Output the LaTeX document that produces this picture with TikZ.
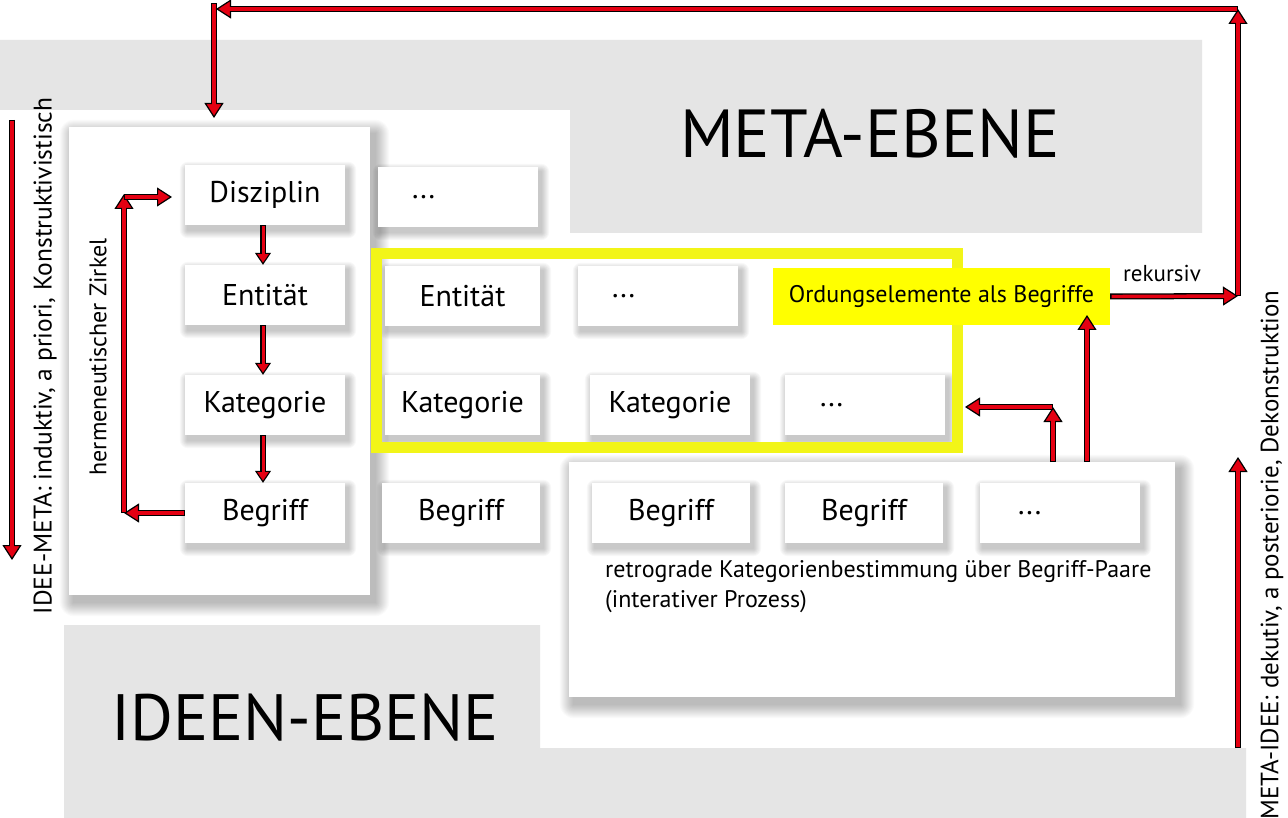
\documentclass[tikz,border=0pt]{standalone}
\usepackage{fontspec}
\setmainfont{PT Sans}
\usetikzlibrary{arrows.meta,calc}
\definecolor{bandgray}{RGB}{229,229,229}
\definecolor{frameyellow}{RGB}{242,245,24}
\definecolor{nodeyellow}{RGB}{255,255,0}
\definecolor{arrowred}{RGB}{228,0,18}
\pgfdeclarelayer{bandlayer}
\pgfdeclarelayer{panelshadowlayer}
\pgfdeclarelayer{panellayer}
\pgfdeclarelayer{shadowlayer}
\pgfsetlayers{bandlayer,panelshadowlayer,panellayer,shadowlayer,main}
\newcommand{\shadowfor}[5]{% name, dx, dy, steps, opacity
  \foreach \i in {1,...,#4}{
    \fill[black, opacity=#5, rounded corners=\i pt]
      ($(#1.north west)+(#2-\i,#3-\i)$) rectangle ($(#1.south east)+(#2+\i,#3+\i)$);
  }}
\begin{document}
\begin{tikzpicture}[x=1pt,y=-1pt,
  ra/.style={draw=black, line width=6pt,
    -{Triangle[width=19pt,length=15pt,fill=arrowred,line width=1.2pt]},
    postaction={draw=arrowred, line width=3.4pt, arrows=-, shorten >=11pt, shorten <=1.3pt}},
  sa/.style={draw=black, line width=5.4pt,
    -{Triangle[width=16pt,length=12pt,fill=arrowred,line width=1.1pt]},
    postaction={draw=arrowred, line width=3pt, arrows=-, shorten >=8pt, shorten <=1.2pt}},
  box/.style={fill=white, minimum width=160pt, minimum height=60pt, inner sep=0pt,
    font=\fontsize{30}{36}\selectfont},
  panel/.style={fill=white, inner sep=0pt},
  side/.style={rotate=90, inner sep=0pt, font=\fontsize{25.5}{28}\selectfont},
  small/.style={inner sep=0pt, font=\fontsize{24}{30}\selectfont},
]
\useasboundingbox (0,0) rectangle (1288,818);
\begin{pgfonlayer}{bandlayer}
\fill[white] (0,0) rectangle (1288,818);
\fill[bandgray] (0,40) -- (1202,40) -- (1202,233) -- (570,233) -- (570,110) -- (0,110) -- cycle;
\fill[bandgray] (64,625) -- (540,625) -- (540,748) -- (1246,748) -- (1246,818) -- (64,818) -- cycle;
\end{pgfonlayer}
\node[inner sep=0pt, font=\fontsize{68}{80}\selectfont, anchor=base] (meta) at (870,158) {META-EBENE};
\node[inner sep=0pt, font=\fontsize{65.5}{80}\selectfont, anchor=base] (ideen) at (305,740) {IDEEN-EBENE};

% panels
\begin{pgfonlayer}{panellayer}
\node[panel, minimum width=301pt, minimum height=468pt] (lp) at (219.5,361) {};
\node[panel, minimum width=606pt, minimum height=235pt] (rp) at (872,579.5) {};
\end{pgfonlayer}

% yellow frame
\draw[frameyellow, line width=11pt] (376.5,253.5) rectangle (957.5,447.5);

% left column
\node[box] (dis) at (265,195) {Disziplin};
\node[box] (ent) at (265,295) {Entität};
\node[box] (kat) at (265,405) {Kategorie};
\node[box] (beg) at (265,513) {Begriff};

% other boxes
\node[box] (d1) at (458,197) {\makebox[160pt][l]{\hspace{34pt}...}};
\node[box, minimum width=155pt] (ent2) at (462.5,296) {Entität};
\node[box] (d2) at (658,296) {\makebox[160pt][l]{\hspace{34pt}...}};
\node[fill=nodeyellow, minimum width=337pt, minimum height=57pt, inner sep=0pt,
      font=\fontsize{24}{28}\selectfont] (ord) at (941.5,296.5) {Ordungselemente als Begriffe};
\node[box, minimum width=155pt] (kat2) at (462.5,405) {Kategorie};
\node[box] (kat3) at (670,405) {Kategorie};
\node[box] (d3) at (865,405) {\makebox[160pt][l]{\hspace{35pt}...}};
\node[box, minimum width=158pt] (beg2) at (461,513) {Begriff};
\node[box, minimum width=158pt] (beg3) at (671,513) {Begriff};
\node[box, minimum width=158pt] (beg4) at (864,513) {Begriff};
\node[box] (d4) at (1060,513) {\makebox[160pt][l]{\hspace{38pt}...}};

% soft shadows
\begin{pgfonlayer}{panelshadowlayer}
\shadowfor{lp}{5}{7}{14}{0.018}
\shadowfor{rp}{5}{7}{14}{0.018}
\end{pgfonlayer}
\begin{pgfonlayer}{shadowlayer}
\foreach \n in {dis,ent,kat,beg,d1,ent2,d2,kat2,kat3,d3,beg2,beg3,beg4,d4}{
  \shadowfor{\n}{3}{5}{8}{0.026}
}
\end{pgfonlayer}

\node[small, anchor=base west, align=left] (retro) at (605,607)
  {retrograde Kategorienbestimmung über Begriff-Paare\\(interativer Prozess)};

% side labels
\node[side] (idee) at (45,356) {IDEE-META: induktiv, a priori, Konstruktivistisch};
\node[side, font=\fontsize{25}{28}\selectfont] (metaidee) at (1272,555) {META-IDEE: dekutiv, a posteriorie, Dekonstruktion};
\node[side, font=\fontsize{24}{28}\selectfont] (herm) at (98,357) {hermeneutischer Zirkel};
\node[inner sep=0pt, font=\fontsize{23}{28}\selectfont, anchor=base] (rek) at (1162,282) {rekursiv};

% coordinates
\coordinate (r1) at (1238,296);
\coordinate (r2) at (1238,9);
\coordinate (r3) at (216,9);
\coordinate (r4top) at (214,3);
\coordinate (r4) at (214,118);
\coordinate (h1) at (124,513);
\coordinate (h2) at (124,194);
\coordinate (h2b) at (124,197);
\coordinate (h3) at (172,197);
\coordinate (la) at (12,120);
\coordinate (lb) at (12,560);
\coordinate (ra1) at (1238,748);
\coordinate (ra2) at (1238,457);
\coordinate (m1) at (1053,462);
\coordinate (m2) at (1053,407);
\coordinate (m3) at (965,407);
\coordinate (n1) at (1087,462);
\coordinate (n2) at (1087,315);

% arrows
\draw[ra] (ord.east) -- (r1);
\draw[ra] (r1) -- (r2);
\draw[ra] (r2) -- (r3);
\draw[ra] (r4top) -- (r4);
\draw[ra] (beg.west) -- (h1);
\draw[ra] (h1) -- (h2);
\draw[ra] (h2b) -- (h3);
\draw[ra] (la) -- (lb);
\draw[ra] (ra1) -- (ra2);
\draw[ra] (m1) -- (m2);
\draw[ra] (m2) -- (m3);
\draw[ra] (n1) -- (n2);
\draw[sa] ([xshift=-2pt]dis.south) -- ([xshift=-2pt]ent.north);
\draw[sa] ([xshift=-2pt]ent.south) -- ([xshift=-2pt]kat.north);
\draw[sa] ([xshift=-2pt]kat.south) -- ([xshift=-2pt]beg.north);
\end{tikzpicture}
\end{document}
